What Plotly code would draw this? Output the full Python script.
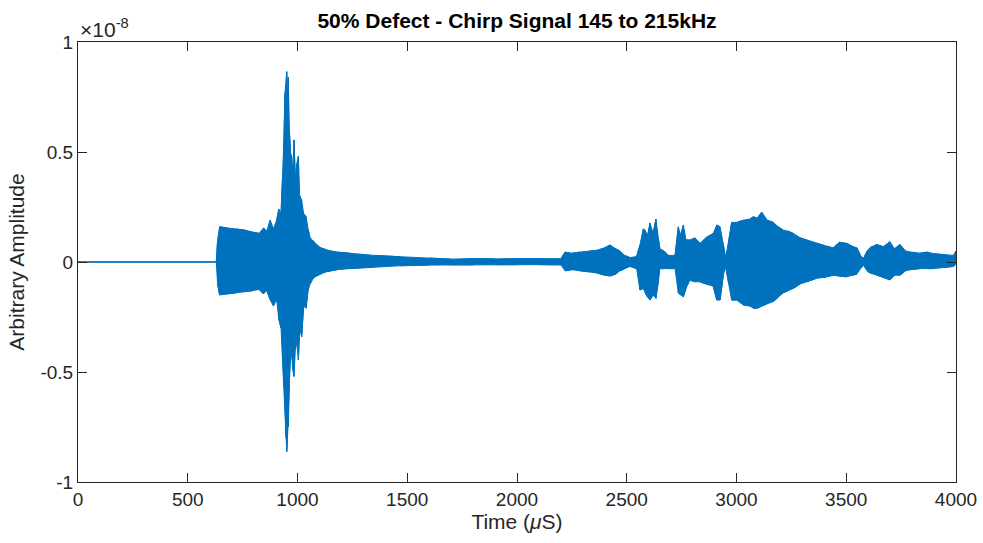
import plotly.graph_objects as go

time_us = [0, 630, 636, 645, 680, 720, 760, 800, 825, 845, 860, 875, 890, 905, 915, 925,
           932, 938, 943, 948, 951, 955, 958, 963, 968, 973, 978, 984, 990, 996, 1004,
           1010, 1019, 1028, 1039, 1048, 1057, 1068, 1080, 1105, 1133, 1180, 1239, 1350,
           1467, 1600, 1700, 1800, 1900, 2000, 2100, 2200, 2219, 2250, 2287, 2330, 2363,
           2400, 2424, 2450, 2469, 2490, 2515, 2545, 2560, 2575, 2583, 2595, 2606, 2620,
           2633, 2645, 2651, 2670, 2690, 2720, 2735, 2745, 2758, 2770, 2788, 2810, 2834,
           2860, 2894, 2910, 2925, 2940, 2950, 2965, 2978, 3001, 3031, 3061, 3077, 3095,
           3115, 3140, 3168, 3190, 3213, 3235, 3259, 3290, 3320, 3365, 3400, 3441, 3470,
           3502, 3530, 3548, 3565, 3578, 3595, 3608, 3640, 3670, 3699, 3720, 3745, 3770,
           3783, 3836, 3870, 3897, 3950, 3989, 4000]
upper_peak = [0, 0, 0.10, 0.16, 0.155, 0.15, 0.145, 0.135, 0.13, 0.155, 0.14, 0.19, 0.15,
              0.19, 0.24, 0.22, 0.39, 0.55, 0.77, 0.83, 0.865, 0.75, 0.84, 0.60, 0.50, 0.48,
              0.40, 0.555, 0.38, 0.44, 0.48, 0.30, 0.28, 0.22, 0.206, 0.15, 0.11, 0.10,
              0.086, 0.065, 0.055, 0.045, 0.04, 0.03, 0.024, 0.018, 0.013, 0.016, 0.014,
              0.016, 0.015, 0.015, 0.045, 0.04, 0.045, 0.05, 0.053, 0.065, 0.077, 0.06,
              0.05, 0.03, 0.02, 0.025, 0.077, 0.15, 0.145, 0.12, 0.177, 0.13, 0.195, 0.10,
              0.06, 0.05, 0.03, 0.03, 0.16, 0.12, 0.168, 0.10, 0.10, 0.11, 0.085, 0.11,
              0.13, 0.168, 0.16, 0.08, 0.02, 0.10, 0.18, 0.18, 0.19, 0.195, 0.206, 0.20,
              0.227, 0.19, 0.18, 0.16, 0.145, 0.14, 0.13, 0.11, 0.10, 0.085, 0.075, 0.065,
              0.09, 0.085, 0.07, 0.065, 0.03, 0.015, 0.05, 0.065, 0.08, 0.07, 0.092, 0.06,
              0.08, 0.05, 0.047, 0.04, 0.045, 0.038, 0.032, 0.03, 0.05]
lower_peak = [0, 0, -0.10, -0.15, -0.145, -0.14, -0.135, -0.13, -0.125, -0.145, -0.13,
              -0.17, -0.20, -0.17, -0.26, -0.30, -0.41, -0.56, -0.64, -0.80, -0.862, -0.78,
              -0.75, -0.55, -0.45, -0.41, -0.48, -0.52, -0.40, -0.36, -0.445, -0.30, -0.34,
              -0.20, -0.21, -0.13, -0.10, -0.08, -0.067, -0.055, -0.044, -0.035, -0.03,
              -0.022, -0.017, -0.014, -0.012, -0.013, -0.012, -0.012, -0.012, -0.013,
              -0.04, -0.035, -0.04, -0.045, -0.05, -0.06, -0.064, -0.055, -0.04, -0.03,
              -0.02, -0.03, -0.127, -0.12, -0.14, -0.16, -0.173, -0.15, -0.165, -0.08,
              -0.03, -0.03, -0.03, -0.03, -0.14, -0.15, -0.158, -0.12, -0.082, -0.09,
              -0.09, -0.10, -0.11, -0.173, -0.173, -0.06, -0.02, -0.10, -0.173, -0.173,
              -0.195, -0.20, -0.21, -0.21, -0.2, -0.19, -0.18, -0.16, -0.14, -0.13, -0.12,
              -0.10, -0.09, -0.074, -0.07, -0.06, -0.065, -0.067, -0.06, -0.055, -0.03,
              -0.015, -0.04, -0.05, -0.06, -0.07, -0.082, -0.06, -0.06, -0.04, -0.036,
              -0.03, -0.03, -0.03, -0.025, -0.02, -0.01]

x_ticks = [0, 500, 1000, 1500, 2000, 2500, 3000, 3500, 4000]
y_ticks = [-1, -0.5, 0, 0.5, 1]
y_tick_text = ["-1", "-0.5", "0", "0.5", "1"]

BLUE = "#0072BD"
AXC = "#262626"
FONT = "Liberation Sans, Arial, sans-serif"

fig = go.Figure()
# filled band between the positive and negative peaks
fig.add_trace(go.Scatter(
    x=time_us + time_us[::-1],
    y=upper_peak + lower_peak[::-1],
    mode="lines", fill="toself", fillcolor=BLUE,
    line=dict(color=BLUE, width=1), hoverinfo="skip", showlegend=False))
# vertical strokes at each read peak to give the oscillation texture
zx, zy = [], []
for i, t in enumerate(time_us):
    if i % 2 == 0:
        zx += [t, t]; zy += [upper_peak[i], lower_peak[i]]
    else:
        zx += [t, t]; zy += [lower_peak[i], upper_peak[i]]
fig.add_trace(go.Scatter(x=zx, y=zy, mode="lines", line=dict(color=BLUE, width=1),
                         hoverinfo="skip", showlegend=False))

axis_common = dict(showline=True, linecolor=AXC, linewidth=1, mirror="ticks",
                   ticks="inside", ticklen=9, tickcolor=AXC, showgrid=False,
                   zeroline=False, automargin=False,
                   tickfont=dict(family=FONT, size=19, color=AXC))
fig.update_xaxes(range=[0, 4000], tickvals=x_ticks,
                 title=dict(text="Time (<i>μ</i>S)", font=dict(family=FONT, size=21, color=AXC),
                            standoff=4), **axis_common)
fig.update_yaxes(range=[-1, 1], tickvals=y_ticks, ticktext=y_tick_text,
                 title=dict(text="Arbitrary Amplitude", font=dict(family=FONT, size=21, color=AXC),
                            standoff=10), **axis_common)

fig.add_annotation(xref="paper", yref="paper", x=0.0, y=1.0, xanchor="left", yanchor="bottom",
                   text="×10<sup>-8</sup>", showarrow=False,
                   font=dict(family=FONT, size=21, color=AXC), yshift=-1)

fig.update_layout(
    width=983, height=543,
    margin=dict(l=78, r=27, t=42, b=61),
    paper_bgcolor="white", plot_bgcolor="white",
    title=dict(text="<b>50% Defect - Chirp Signal 145 to 215kHz</b>", x=0.5, xref="paper",
               xanchor="center", y=1 - 21 / 543, yanchor="middle",
               font=dict(family=FONT, size=21, color="black")),
)

fig.write_html("out.html")
